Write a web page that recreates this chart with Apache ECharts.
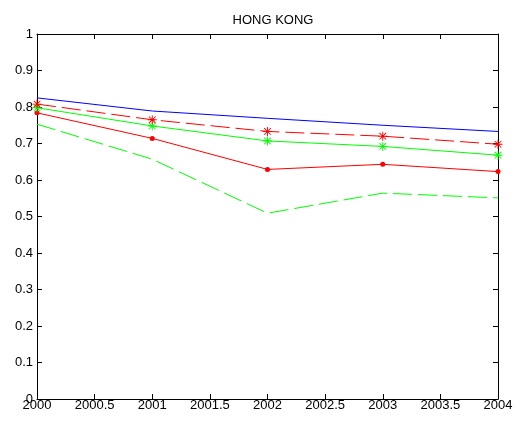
<!DOCTYPE html>
<html>
<head>
<meta charset="utf-8">
<script src="https://cdn.jsdelivr.net/npm/echarts@6/dist/echarts.min.js"></script>
<style>
  html, body { margin: 0; padding: 0; background: #fff; }
  #chart { width: 522px; height: 424px; }
</style>
</head>
<body>
<div id="chart"></div>
<script>
// Years on the horizontal axis
var years = [2000, 2001, 2002, 2003, 2004];

// Series values, one array per line
var blueSolid  = [0.825, 0.789, 0.769, 0.750, 0.733];
var redDashed  = [0.808, 0.765, 0.733, 0.720, 0.698];
var greenSolid = [0.798, 0.748, 0.707, 0.692, 0.668];
var redSolid   = [0.784, 0.714, 0.629, 0.643, 0.623];
var greenDashed = [0.753, 0.657, 0.509, 0.564, 0.551];

var chartTitle = 'HONG KONG';

function pairs(vals) {
  return years.map(function (y, i) { return [y, vals[i]]; });
}

// Filled asterisk glyph: vertical, horizontal and two diagonal bars
var asterisk = 'path://M9 0H11V20H9Z M0 9H20V11H0Z M2 3.4L3.4 2L18 16.6L16.6 18Z M16.6 2L18 3.4L3.4 18L2 16.6Z';

var font = 'Liberation Sans, Arial, sans-serif';
var tickStyle = { show: true, inside: true, length: 5, lineStyle: { color: '#000', width: 1 } };
var lineAx = { show: true, onZero: false, lineStyle: { color: '#000', width: 1 } };

function fmtX(v) { return String(Math.round(v * 10) / 10); }
function fmtY(v) { return String(Math.round(v * 10) / 10); }

var chart = echarts.init(document.getElementById('chart'), null, { renderer: 'canvas' });

function lineSeries(name, vals, color, dashed, symbol, size) {
  return {
    name: name,
    type: 'line',
    xAxisIndex: 0,
    yAxisIndex: 0,
    data: pairs(vals),
    symbol: symbol || 'none',
    symbolSize: size || 0,
    showSymbol: !!symbol,
    clip: false,
    animation: false,
    lineStyle: { color: color, width: 1, type: dashed ? [19, 6] : 'solid' },
    itemStyle: { color: color, borderWidth: 0 },
    emphasis: { disabled: true }
  };
}

chart.setOption({
  backgroundColor: '#fff',
  animation: false,
  title: {
    text: chartTitle,
    left: 268,
    top: 9,
    textAlign: 'center',
    textStyle: { fontFamily: font, fontSize: 13, fontWeight: 'normal', color: '#000' }
  },
  grid: { left: 37, right: 24, top: 34, bottom: 25, containLabel: false },
  xAxis: [
    {
      type: 'value', position: 'bottom', min: 2000, max: 2004, interval: 0.5,
      axisLine: lineAx, axisTick: tickStyle, splitLine: { show: false },
      axisLabel: { show: true, margin: 0, fontFamily: font, fontSize: 13, color: '#000', formatter: fmtX,
                   showMinLabel: true, showMaxLabel: true }
    },
    {
      type: 'value', position: 'top', min: 2000, max: 2004, interval: 0.5,
      axisLine: lineAx, axisTick: tickStyle, splitLine: { show: false },
      axisLabel: { show: false }
    }
  ],
  yAxis: [
    {
      type: 'value', position: 'left', min: 0, max: 1, interval: 0.1,
      axisLine: lineAx, axisTick: tickStyle, splitLine: { show: false },
      axisLabel: { show: true, margin: 4, fontFamily: font, fontSize: 13, color: '#000', formatter: fmtY,
                   showMinLabel: true, showMaxLabel: true }
    },
    {
      type: 'value', position: 'right', min: 0, max: 1, interval: 0.1,
      axisLine: lineAx, axisTick: tickStyle, splitLine: { show: false },
      axisLabel: { show: false }
    }
  ],
  series: [
    lineSeries('blue', blueSolid, '#0000ff', false),
    lineSeries('greenDashed', greenDashed, '#00ff00', true),
    lineSeries('redSolid', redSolid, '#ff0000', false, 'circle', 5),
    lineSeries('greenSolid', greenSolid, '#00ff00', false, asterisk, 9),
    lineSeries('redDashed', redDashed, '#ff0000', true, asterisk, 9)
  ]
});
</script>
</body>
</html>
